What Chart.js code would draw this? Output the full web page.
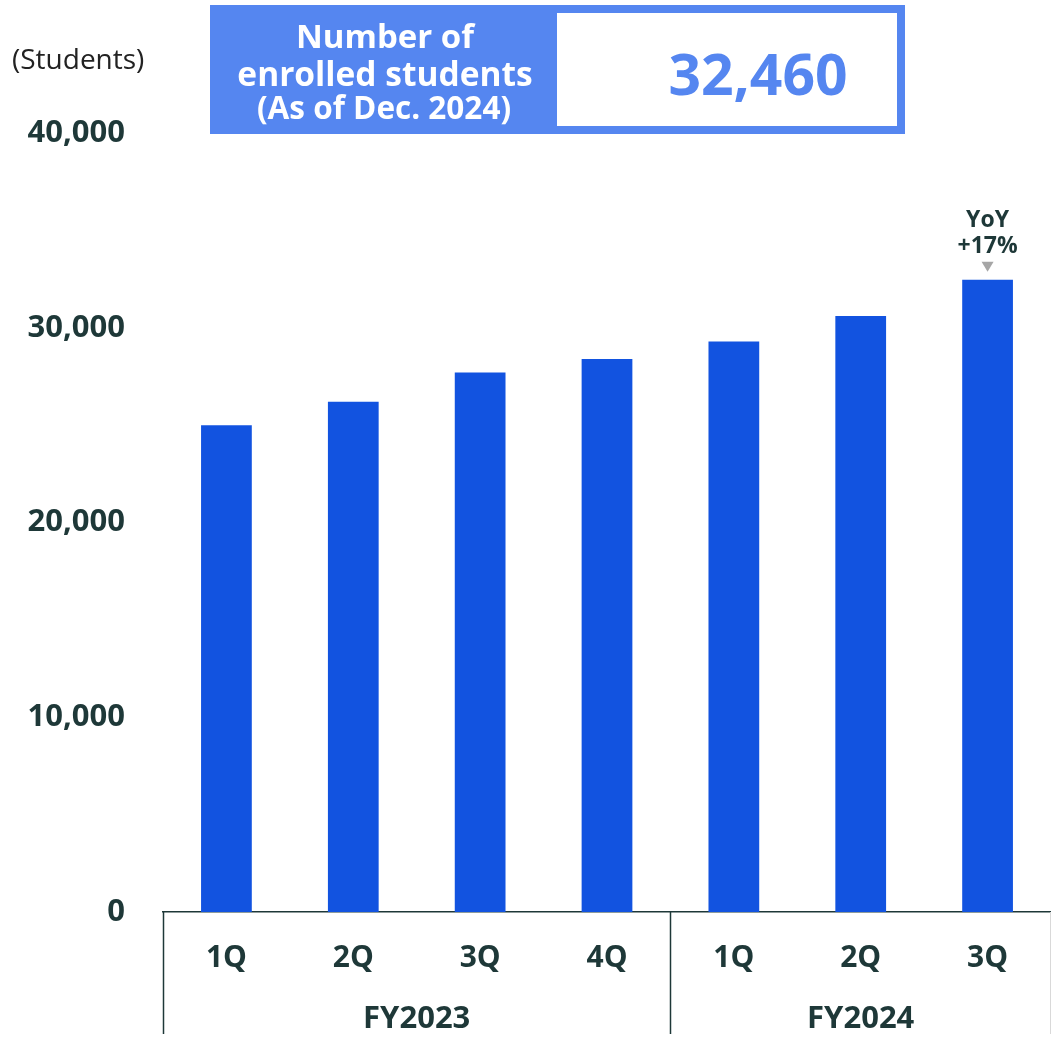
<!DOCTYPE html>
<html>
<head>
<meta charset="utf-8">
<script src="https://cdn.jsdelivr.net/npm/chart.js@4"></script>
<style>
  html, body { margin: 0; padding: 0; background: #fff; }
  canvas { display: block; }
</style>
</head>
<body>
<canvas id="enrolled-chart" width="1051" height="1038"></canvas>
<script>
// CHART DATA
const quarters = ["1Q", "2Q", "3Q", "4Q", "1Q", "2Q", "3Q"]
const fiscalYears = ["FY2023", "FY2024"]
const yearSpans = [[0, 3], [4, 6]]
const students = [25000, 26200, 27700, 28400, 29300, 30600, 32460]
const yTicks = [0, 10000, 20000, 30000, 40000]
const yoyText = ["YoY", "+17%"]

const TEXT_DARK = "#1e3838"
const BAR_BLUE = "#1253e0"
const BOX_BLUE = "#5586f0"
const FONT = '"Open Sans", "DejaVu Sans", sans-serif'

const fmt = (n) => n.toLocaleString("en-US")

// EXTRA DRAWING: header box, unit label, year groups, YoY note
const decorations = {
  id: "decorations",
  afterDraw(chart) {
    const { ctx, chartArea, scales } = chart
    const x = scales.x
    ctx.save()

    // unit label
    ctx.fillStyle = "#222"
    ctx.font = "28px " + FONT
    ctx.textAlign = "left"
    ctx.textBaseline = "middle"
    ctx.fillText("(Students)", 12, 61)

    // header box
    ctx.fillStyle = BOX_BLUE
    ctx.fillRect(210, 5, 695, 129)
    ctx.fillStyle = "#fff"
    ctx.fillRect(557, 13, 340, 113)

    ctx.textAlign = "center"
    ctx.textBaseline = "alphabetic"
    ctx.fillStyle = "#fff"
    ctx.font = "bold 33px " + FONT
    ctx.fillText("Number of", 385, 48)
    ctx.font = "bold 33.5px " + FONT
    ctx.fillText("enrolled students", 385, 86)
    ctx.font = "bold 31.5px " + FONT
    ctx.fillText("(As of Dec. 2024)", 384, 119)

    ctx.fillStyle = BOX_BLUE
    ctx.font = "bold 57px " + FONT
    ctx.fillText(fmt(students[students.length - 1]), 758, 95)

    // year group separators
    const half = (x.getPixelForValue(1) - x.getPixelForValue(0)) / 2
    ctx.strokeStyle = TEXT_DARK
    ctx.lineWidth = 1.5
    const seps = [chartArea.left, x.getPixelForValue(yearSpans[0][1]) + half]
    seps.forEach((px) => {
      ctx.beginPath()
      ctx.moveTo(Math.round(px) + 0.5, chartArea.bottom)
      ctx.lineTo(Math.round(px) + 0.5, 1034)
      ctx.stroke()
    })
    ctx.strokeStyle = "#d9d9d9"
    ctx.lineWidth = 1
    ctx.beginPath()
    ctx.moveTo(chartArea.right - 0.5, chartArea.bottom)
    ctx.lineTo(chartArea.right - 0.5, 1034)
    ctx.stroke()

    // year group labels
    ctx.fillStyle = TEXT_DARK
    ctx.font = "bold 31px " + FONT
    ctx.textBaseline = "middle"
    fiscalYears.forEach((label, i) => {
      const [a, b] = yearSpans[i]
      const cx = (x.getPixelForValue(a) + x.getPixelForValue(b)) / 2
      ctx.fillText(label, cx, 1019)
    })

    // YoY note over the latest bar
    const last = chart.getDatasetMeta(0).data[students.length - 1]
    ctx.font = "bold 23px " + FONT
    ctx.fillText(yoyText[0], last.x, last.y - 59)
    ctx.fillText(yoyText[1], last.x, last.y - 33)
    ctx.fillStyle = "#a6a6a6"
    ctx.beginPath()
    ctx.moveTo(last.x - 6, last.y - 18)
    ctx.lineTo(last.x + 6, last.y - 18)
    ctx.lineTo(last.x, last.y - 8)
    ctx.closePath()
    ctx.fill()

    ctx.restore()
  },
}

const ctx = document.getElementById("enrolled-chart").getContext("2d")

new Chart(ctx, {
  type: "bar",
  data: {
    labels: quarters,
    datasets: [
      {
        data: students,
        backgroundColor: BAR_BLUE,
        barPercentage: 0.4,
        categoryPercentage: 1,
      },
    ],
  },
  options: {
    responsive: false,
    animation: false,
    layout: { padding: { top: 133, right: 0, left: 0, bottom: 0 } },
    plugins: {
      legend: { display: false },
      tooltip: { enabled: false },
    },
    scales: {
      x: {
        grid: { display: false, drawTicks: false },
        border: { display: true, color: TEXT_DARK, width: 1.5 },
        ticks: {
          color: TEXT_DARK,
          font: { family: FONT, size: 30, weight: "bold" },
          padding: 28,
        },
        afterFit: (scale) => {
          scale.height = 126
        },
      },
      y: {
        min: 0,
        max: 40000,
        grid: { display: false, drawTicks: false },
        border: { display: false },
        afterBuildTicks: (scale) => {
          scale.ticks = yTicks.map((v) => ({ value: v }))
        },
        ticks: {
          color: TEXT_DARK,
          font: { family: FONT, size: 31, weight: "bold" },
          padding: 38,
          callback: (v) => fmt(v),
        },
        afterFit: (scale) => {
          scale.width = 163
        },
      },
    },
  },
  plugins: [decorations],
})
</script>
</body>
</html>
